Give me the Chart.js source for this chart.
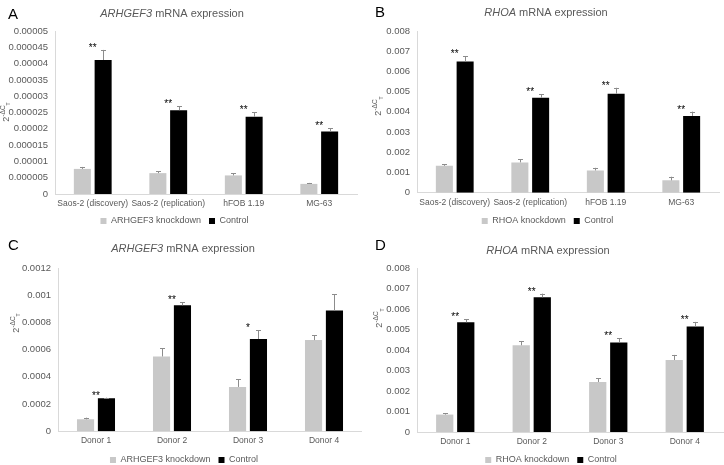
<!DOCTYPE html>
<html>
<head>
<meta charset="utf-8">
<script src="https://cdn.jsdelivr.net/npm/chart.js@4.4.0/dist/chart.umd.min.js"></script>
<style>
body{margin:0;background:#fff;}
#todo{position:relative;width:724px;height:465px;}
canvas{position:absolute;}
</style>
</head>
<body>
<div id="todo">
<canvas id="gA" width="362" height="232" style="left:0;top:0"></canvas>
<canvas id="gB" width="362" height="232" style="left:362px;top:0"></canvas>
<canvas id="gC" width="362" height="233" style="left:0;top:232px"></canvas>
<canvas id="gD" width="362" height="233" style="left:362px;top:232px"></canvas>
</div>
<script>
// Categorias
var celulas = ['Saos-2 (discovery)', 'Saos-2 (replication)', 'hFOB 1.19', 'MG-63'];
var donantes = ['Donor 1', 'Donor 2', 'Donor 3', 'Donor 4'];

// Panel A: ARHGEF3 en lineas celulares
var kdA = [0.0000077, 0.0000064, 0.0000057, 0.0000031];
var kdAErr = [0.0000006, 0.0000006, 0.0000006, 0.0000003];
var ctA = [0.0000411, 0.0000257, 0.0000237, 0.0000192];
var ctAErr = [0.0000031, 0.0000012, 0.0000014, 0.0000010];
var sigA = ['**', '**', '**', '**'];
var ticksA = [0, 0.000005, 0.00001, 0.000015, 0.00002, 0.000025, 0.00003, 0.000035, 0.00004, 0.000045, 0.00005];

// Panel B: RHOA en lineas celulares
var kdB = [0.00133, 0.0015, 0.0011, 0.00061];
var kdBErr = [0.00009, 0.00015, 0.00013, 0.00018];
var ctB = [0.00649, 0.0047, 0.0049, 0.0038];
var ctBErr = [0.00027, 0.00016, 0.00029, 0.00021];
var sigB = ['**', '**', '**', '**'];
var ticksB = [0, 0.001, 0.002, 0.003, 0.004, 0.005, 0.006, 0.007, 0.008];

// Panel C: ARHGEF3 en donantes
var kdC = [0.000088, 0.00055, 0.000326, 0.00067];
var kdCErr = [0.000012, 0.00006, 0.000058, 0.000036];
var ctC = [0.000242, 0.000926, 0.000678, 0.000887];
var ctCErr = [0.000005, 0.000022, 0.000064, 0.00012];
var sigC = ['**', '**', '*', ''];
var ticksC = [0, 0.0002, 0.0004, 0.0006, 0.0008, 0.001, 0.0012];

// Panel D: RHOA en donantes
var kdD = [0.00085, 0.00423, 0.00244, 0.00351];
var kdDErr = [0.00006, 0.00021, 0.00019, 0.00025];
var ctD = [0.00535, 0.00657, 0.00437, 0.00515];
var ctDErr = [0.00015, 0.00018, 0.0002, 0.00022];
var sigD = ['**', '**', '**', '**'];
var ticksD = [0, 0.001, 0.002, 0.003, 0.004, 0.005, 0.006, 0.007, 0.008];

var fuente = '"Liberation Sans", Arial, sans-serif';
var gris = '#595959';

// barras de error y asteriscos
var errores = {
    id: 'errores',
    afterDatasetsDraw: function(chart, args, op) {
        var ctx = chart.ctx;
        var y = chart.scales.y, x = chart.scales.x;
        ctx.save();
        ctx.strokeStyle = '#8c8c8c';
        ctx.lineWidth = 1;
        chart.data.datasets.forEach(function(ds, i) {
            chart.getDatasetMeta(i).data.forEach(function(barra, j) {
                var cx = Math.round(barra.x) + 0.5;
                var tope = y.getPixelForValue(ds.data[j] + ds.errores[j]);
                ctx.beginPath();
                ctx.moveTo(cx, barra.y);
                ctx.lineTo(cx, tope);
                ctx.moveTo(cx - 2.5, Math.round(tope) + 0.5);
                ctx.lineTo(cx + 2.5, Math.round(tope) + 0.5);
                ctx.stroke();
            });
        });
        var ds = chart.data.datasets[1];
        ctx.fillStyle = '#000';
        ctx.font = '10px ' + fuente;
        ctx.textAlign = 'center';
        ctx.textBaseline = 'alphabetic';
        op.sig.forEach(function(s, j) {
            var tope = y.getPixelForValue(ds.data[j] + ds.errores[j]);
            ctx.fillText(s, x.getPixelForValue(j), tope + 1);
        });
        ctx.restore();
    },
    // mover la leyenda como en el original
    afterLayout: function(chart, args, op) {
        chart.legend.left += op.leyendaDx;
        chart.legend.right += op.leyendaDx;
    }
};

// letra, titulo y nombre del eje
var textos = {
    id: 'textos',
    afterDraw: function(chart, args, op) {
        var ctx = chart.ctx;
        ctx.save();
        ctx.fillStyle = '#000';
        ctx.font = '15px ' + fuente;
        ctx.textBaseline = 'alphabetic';
        ctx.fillText(op.letra, op.letraX, op.letraY);

        ctx.fillStyle = gris;
        ctx.font = 'italic 11px ' + fuente;
        var w1 = ctx.measureText(op.gen).width;
        ctx.font = '11px ' + fuente;
        var resto = ' mRNA expression';
        var w2 = ctx.measureText(resto).width;
        var x0 = op.tituloX - (w1 + w2) / 2;
        ctx.textBaseline = 'middle';
        ctx.font = 'italic 11px ' + fuente;
        ctx.fillText(op.gen, x0, op.tituloY);
        ctx.font = '11px ' + fuente;
        ctx.fillText(resto, x0 + w1, op.tituloY);

        // 2^-dCt girado
        ctx.translate(op.ejeX, op.ejeY);
        ctx.rotate(-Math.PI / 2);
        ctx.textBaseline = 'alphabetic';
        ctx.font = '9px ' + fuente;
        var a = ctx.measureText('2').width;
        ctx.font = '6.5px ' + fuente;
        var b = ctx.measureText('-\u0394C').width;
        ctx.font = '5px ' + fuente;
        var c = ctx.measureText('T').width;
        var p = -(a + b + c) / 2;
        ctx.font = '9px ' + fuente;
        ctx.fillText('2', p, 3);
        ctx.font = '6.5px ' + fuente;
        ctx.fillText('-\u0394C', p + a, -1);
        ctx.font = '5px ' + fuente;
        ctx.fillText('T', p + a + b, 4.5);
        ctx.restore();
    }
};

function grafico(id, cats, kd, kdErr, ct, ctErr, nombre, marcas, sig, o) {
    var ctx = document.getElementById(id);
    new Chart(ctx, {
        type: 'bar',
        data: {
            labels: cats,
            datasets: [{
                label: nombre + ' knockdown',
                data: kd,
                errores: kdErr,
                backgroundColor: '#c8c8c8',
                categoryPercentage: 0.55,
                barPercentage: 0.82
            }, {
                label: 'Control',
                data: ct,
                errores: ctErr,
                backgroundColor: '#000000',
                categoryPercentage: 0.55,
                barPercentage: 0.82
            }]
        },
        options: {
            responsive: false,
            animation: false,
            layout: { padding: { top: o.arriba, right: o.der, left: 0, bottom: o.abajo } },
            scales: {
                x: {
                    grid: { display: false, drawTicks: false },
                    border: { display: true, color: '#d9d9d9' },
                    ticks: { color: gris, font: { family: fuente, size: 8.5 }, padding: o.padX, maxRotation: 0, autoSkip: false },
                    afterFit: function(s) { s.height = o.altoX; }
                },
                y: {
                    min: 0,
                    max: marcas[marcas.length - 1],
                    grid: { display: false, drawTicks: false },
                    border: { display: true, color: '#d9d9d9' },
                    ticks: {
                        color: gris, font: { family: fuente, size: 9.5 }, padding: 7,
                        callback: function(v) { return String(v); }
                    },
                    afterBuildTicks: function(s) { s.ticks = marcas.map(function(v) { return { value: v }; }); },
                    afterFit: function(s) { s.width = o.izq; }
                }
            },
            plugins: {
                legend: {
                    position: 'bottom',
                    labels: { boxWidth: 6, boxHeight: 6, padding: 8, color: gris, font: { family: fuente, size: 9 } }
                },
                tooltip: { enabled: false },
                errores: { sig: sig, leyendaDx: o.leyendaDx },
                textos: o
            }
        },
        plugins: [errores, textos]
    });
}

grafico('gA', celulas, kdA, kdAErr, ctA, ctAErr, 'ARHGEF3', ticksA, sigA,
    { letra: 'A', letraX: 8, letraY: 19, gen: 'ARHGEF3', tituloX: 172, tituloY: 14, ejeX: 5.5, ejeY: 112,
      izq: 55, der: 5, arriba: 31, abajo: -3.5, altoX: 14.5, padX: 4.9, leyendaDx: -4 });
grafico('gB', celulas, kdB, kdBErr, ctB, ctBErr, 'RHOA', ticksB, sigB,
    { letra: 'B', letraX: 13, letraY: 17, gen: 'RHOA', tituloX: 184, tituloY: 13, ejeX: 16, ejeY: 106,
      izq: 55, der: 5, arriba: 31, abajo: -3.5, altoX: 15.8, padX: 5.2, leyendaDx: 7 });
grafico('gC', donantes, kdC, kdCErr, ctC, ctCErr, 'ARHGEF3', ticksC, sigC,
    { letra: 'C', letraX: 8, letraY: 18, gen: 'ARHGEF3', tituloX: 183, tituloY: 17, ejeX: 15.5, ejeY: 91,
      izq: 58, der: 0, arriba: 36, abajo: -9.5, altoX: 16.2, padX: 4.6, leyendaDx: 3 });
grafico('gD', donantes, kdD, kdDErr, ctD, ctDErr, 'RHOA', ticksD, sigD,
    { letra: 'D', letraX: 13, letraY: 18, gen: 'RHOA', tituloX: 186, tituloY: 19, ejeX: 17, ejeY: 86,
      izq: 55, der: 1, arriba: 36, abajo: -9.5, altoX: 15.5, padX: 4.9, leyendaDx: 8.5 });
</script>
</body>
</html>
